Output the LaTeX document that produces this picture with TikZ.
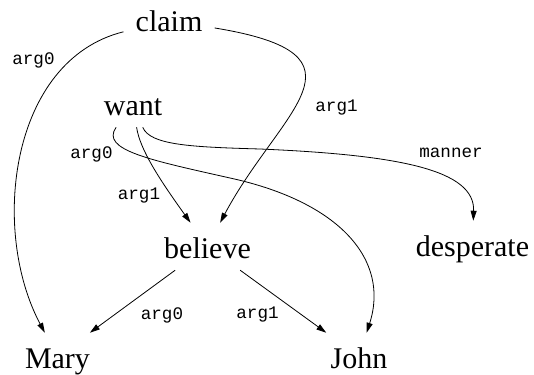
\documentclass[tikz,border=0pt]{standalone}
\usepackage{fontspec}
\setmainfont{Liberation Serif}
\newfontfamily\monof{Liberation Mono}
\usetikzlibrary{arrows.meta}
\tikzset{
  word/.style={font=\fontsize{22.5}{27}\selectfont, anchor=base, text height=23.25pt, text depth=6pt, inner ysep=3pt, inner xsep=9pt},
  lab/.style={font=\monof\fontsize{13.2}{15}\selectfont, inner sep=0pt},
  edge/.style={draw=black, line width=0.6pt, -{Triangle[length=7.5pt,width=4.5pt]}}
}
\begin{document}
\begin{tikzpicture}[x=0.75pt,y=-0.75pt]
\useasboundingbox (0,0) rectangle (534,374);
\node[word] (claim) at (169,32) {claim};
\node[word] (want) at (133,115) {want};
\node[word] (believe) at (207.5,258) {believe};
\node[word] (desperate) at (472.5,256) {desperate};
\node[word] (Mary) at (57.5,368) {Mary};
\node[word] (John) at (359,368) {John};

\draw[edge] (claim) .. controls (10,60) and (-10,230) .. (Mary);
\draw[edge] (claim) .. controls (380,55) and (280,110) .. (believe);
\draw[edge] (want) .. controls (100,150) and (150,160) .. (230,178) .. controls (340,202) and (390,260) .. (John);
\draw[edge] (want) .. controls (140,150) and (160,180) .. (believe);
\draw[edge] (want) .. controls (150,145) and (190,147) .. (260,149) .. controls (400,155) and (475,170) .. (desperate);
\draw[edge] (believe) -- (Mary);
\draw[edge] (believe) -- (John);

\node[lab] (l1) at (33.5,60) {arg0};
\node[lab] (l2) at (336.5,108) {arg1};
\node[lab] (l3) at (91.5,154) {arg0};
\node[lab] (l4) at (139,196) {arg1};
\node[lab] (l5) at (451,153) {manner};
\node[lab] (l6) at (162,315) {arg0};
\node[lab] (l7) at (257.5,315) {arg1};
\end{tikzpicture}
\end{document}
